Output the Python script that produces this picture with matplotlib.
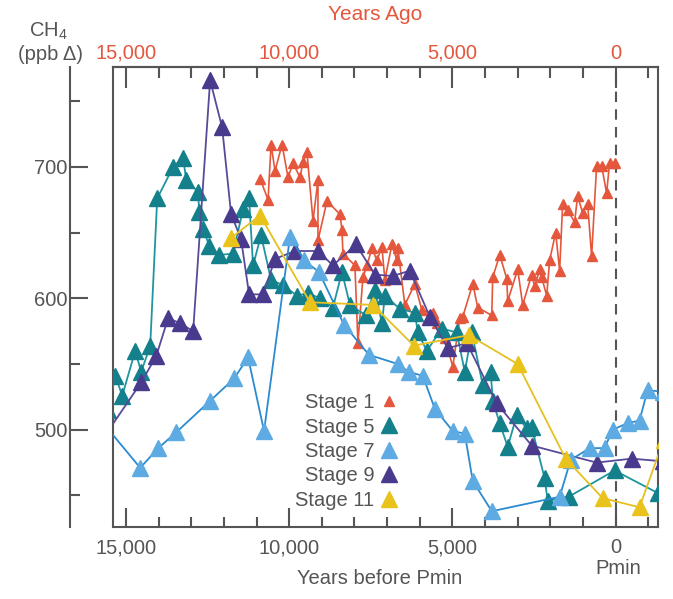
import numpy as np
import matplotlib.pyplot as plt
from matplotlib.ticker import FixedLocator, MultipleLocator

plt.rcParams["font.family"] = ["Liberation Sans", "DejaVu Sans"]
plt.rcParams["mathtext.fontset"] = "custom"
plt.rcParams["mathtext.rm"] = "Liberation Sans"

# years before Pmin / CH4 (ppb) for each stage
stage1_x = [10894, 10649, 10557, 10435, 10220, 10037, 9884, 9670, 9578, 9456,
            9272, 9119, 9119, 8843, 8446, 8384, 8354, 7987, 7895, 7742,
            7619, 7466, 7313, 7160, 7069, 6854, 6701, 6671, 6457, 6151,
            5936, 5600, 5477, 5233, 4988, 4774, 4682, 4376, 4223, 3794,
            3764, 3550, 3335, 3305, 2999, 2846, 2570, 2478, 2326, 2264,
            2111, 2020, 1836, 1714, 1622, 1469, 1255, 1163, 1010, 857,
            734, 581, 428, 275, 184, 31]
stage1_y = [691, 675, 717, 697, 717, 692, 703, 692, 704, 711,
            659, 690, 644, 674, 664, 652, 634, 625, 566, 616,
            625, 638, 629, 639, 614, 641, 629, 638, 595, 611,
            591, 589, 581, 570, 548, 585, 586, 611, 593, 587,
            616, 633, 615, 598, 622, 595, 618, 609, 622, 616,
            602, 629, 650, 621, 672, 667, 658, 678, 665, 672,
            632, 701, 701, 680, 703, 703]

stage5_x = [15545, 15331, 15116, 14719, 14535, 14260, 14045, 13556, 13250, 13158,
            12791, 12760, 12638, 12454, 12148, 11720, 11414, 11230, 11108, 10863,
            10557, 10190, 9761, 9425, 9058, 8660, 8384, 8140, 7650, 7375,
            7160, 7069, 6610, 6151, 6059, 5783, 5324, 4865, 4621, 4406,
            4070, 3825, 3764, 3550, 3305, 3029, 2723, 2570, 2173, 2081,
            1438, 31, -1285]
stage5_y = [515, 541, 526, 560, 544, 564, 676, 700, 707, 690,
            681, 666, 653, 640, 633, 634, 668, 676, 625, 648,
            614, 610, 602, 604, 600, 593, 620, 595, 587, 606,
            581, 602, 592, 589, 574, 560, 577, 574, 544, 574,
            534, 544, 522, 505, 487, 511, 501, 502, 463, 446,
            449, 469, 452]

stage7_x = [15800, 14566, 14015, 13464, 12424, 11689, 11261, 10771, 9976, 9547,
            9088, 8323, 7558, 6671, 6334, 5906, 5539, 4988, 4621, 4376,
            3794, 1714, 1377, 796, 337, 92, -367, -734, -979, -1450]
stage7_y = [508, 471, 486, 498, 522, 539, 555, 499, 647, 629,
            620, 580, 557, 550, 544, 541, 516, 499, 497, 461,
            438, 449, 477, 486, 486, 500, 505, 507, 530, 529]

stage9_x = [15800, 14535, 14076, 13709, 13342, 12944, 12424, 12056, 11781, 11475,
            11230, 10802, 10435, 9823, 9119, 8660, 7956, 7375, 6824, 6304,
            5692, 5141, 4559, 3641, 2570, 581, -490, -1450]
stage9_y = [490, 536, 556, 585, 581, 575, 766, 730, 664, 645,
            603, 603, 630, 636, 636, 625, 641, 618, 617, 621,
            586, 562, 566, 520, 488, 475, 478, 476]

stage11_x = [11781, 10894, 9364, 7436, 6181, 4498, 2999, 1530, 398, -734, -1469]
stage11_y = [646, 663, 597, 595, 564, 572, 550, 478, 448, 441, 492]

GREY = "#555555"
RED = "#e4573d"

fig = plt.figure(figsize=(6.73, 5.99), dpi=100)
ax = fig.add_axes([113 / 673, 1 - 527 / 599, 545 / 673, 460 / 599])

ax.plot(stage1_x, stage1_y, color=RED, lw=1.2, marker="^", ms=7.5,
        label="Stage 1", zorder=3)
ax.plot(stage5_x, stage5_y, color="#1f95a0", lw=1.3, marker="^", ms=11,
        mfc="#13808c", mec="#13808c", label="Stage 5", zorder=4)
ax.plot(stage7_x, stage7_y, color="#2a8bd0", lw=1.3, marker="^", ms=11,
        mfc="#5dabe2", mec="#5dabe2", label="Stage 7", zorder=5)
ax.plot(stage9_x, stage9_y, color="#574a98", lw=1.3, marker="^", ms=11,
        mfc="#4a3a8e", mec="#4a3a8e", label="Stage 9", zorder=4)
ax.plot(stage11_x, stage11_y, color="#e6c020", lw=1.3, marker="^", ms=11,
        mfc="#e9c31b", mec="#e9c31b", label="Stage 11", zorder=6)

ax.axvline(0, color=GREY, lw=1.5, ls=(0, (5, 3.5)), zorder=2)

ax.set_xlim(15400, -1300)
ax.set_ylim(426, 776)

for sp in ax.spines.values():
    sp.set_color(GREY)
    sp.set_linewidth(1.5)

# bottom axis
ax.xaxis.set_major_locator(FixedLocator([15000, 10000, 5000, 0]))
ax.xaxis.set_minor_locator(MultipleLocator(1000))
ax.set_xticklabels(["15,000", "10,000", "5,000", "0"])
ax.tick_params(axis="x", which="major", direction="in", length=14, width=1.5,
               color=GREY, labelcolor=GREY, labelsize=14.5, pad=8)
ax.tick_params(axis="x", which="minor", direction="in", length=7, width=1.5,
               color=GREY)
ax.tick_params(axis="y", which="both", left=False, labelleft=False)

# top axis: years ago
top = ax.secondary_xaxis("top")
top.xaxis.set_major_locator(FixedLocator([15000, 10000, 5000, 0]))
top.xaxis.set_minor_locator(MultipleLocator(1000))
top.set_xticklabels(["15,000", "10,000", "5,000", "0"])
top.tick_params(which="major", direction="in", length=15, width=1.5,
                color=GREY, labelcolor=RED, labelsize=14.5, pad=3)
top.tick_params(which="minor", direction="in", length=8, width=1.5, color=GREY)
top.spines["top"].set_color(GREY)
top.spines["top"].set_linewidth(1.5)
fig.text(375 / 673, 1 - 15 / 599, "Years Ago", color=RED, fontsize=15,
         ha="center", va="center")

# offset left axis for CH4
left = ax.secondary_yaxis(-43 / 545)
left.yaxis.set_major_locator(FixedLocator([500, 600, 700]))
left.yaxis.set_minor_locator(FixedLocator([450, 550, 650, 750]))
left.tick_params(which="major", direction="in", length=13, width=1.5,
                 color=GREY, labelcolor=GREY, labelsize=14.5, pad=2)
left.tick_params(which="minor", direction="in", length=7, width=1.5, color=GREY)
left.spines["left"].set_color(GREY)
left.spines["left"].set_linewidth(1.5)

fig.text(48 / 673, 1 - 31 / 599, "CH$_4$", color=GREY, fontsize=14.5,
         ha="center", va="center")
fig.text(50 / 673, 1 - 54 / 599, "(ppb \u0394)", color=GREY, fontsize=14.5,
         ha="center", va="center")

ax.annotate("Pmin", xy=(0, 0), xycoords=("data", "axes fraction"),
            xytext=(2, -30), textcoords="offset points", ha="center",
            va="center", color=GREY, fontsize=14.5)
fig.text(380 / 673, 1 - 578 / 599, "Years before Pmin", color=GREY,
         fontsize=14.5, ha="center", va="center")

leg = ax.legend(loc="upper left", bbox_to_anchor=(285 / 673, 1 - 383 / 599),
                bbox_transform=fig.transFigure, frameon=False, markerfirst=False,
                handlelength=0.9, handletextpad=0.3, labelspacing=0.27,
                fontsize=14.5, borderpad=0)
for h in leg.legend_handles:
    h.set_linestyle("none")
for t in leg.get_texts():
    t.set_color(GREY)

fig.savefig("out.png", dpi=100)
